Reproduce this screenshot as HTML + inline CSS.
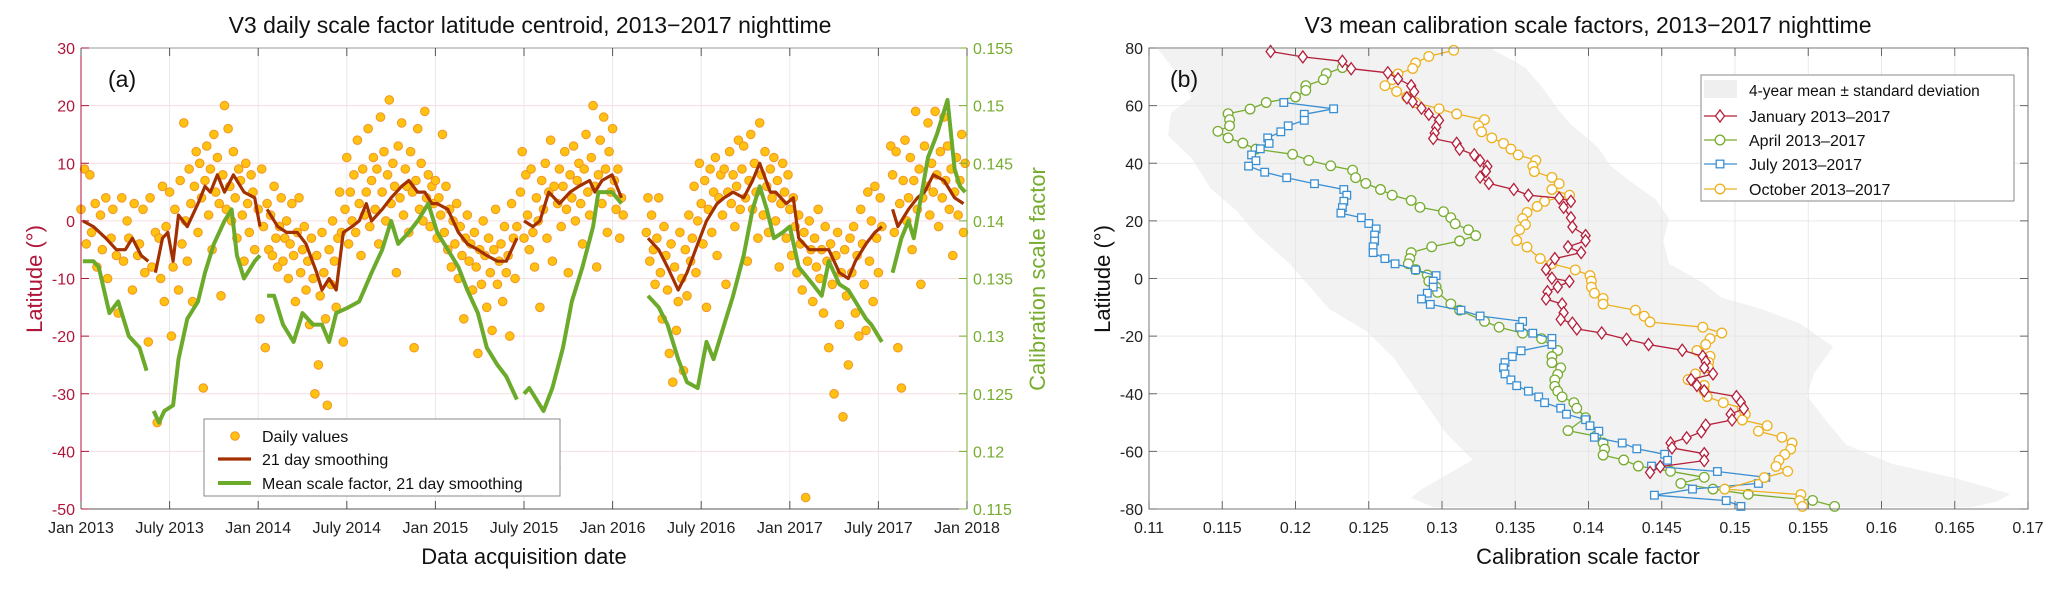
<!DOCTYPE html>
<html><head><meta charset="utf-8">
<style>
html,body{margin:0;padding:0;background:#fff;}
svg{display:block;font-family:"Liberation Sans",Arial,sans-serif;}
</style></head>
<body>
<svg id="fig" width="2067" height="592" viewBox="0 0 2067 592" xmlns="http://www.w3.org/2000/svg">
<rect x="0" y="0" width="2067" height="592" fill="#fff"/>
<g id="pa"></g>
<g id="pb"></g>
</svg>
<script>
// ===== Panel (a) data =====
const aXTickLabels = ["Jan 2013","July 2013","Jan 2014","July 2014","Jan 2015","July 2015","Jan 2016","July 2016","Jan 2017","July 2017","Jan 2018"];
const aXTickYears = [2013,2013.5,2014,2014.5,2015,2015.5,2016,2016.5,2017,2017.5,2018];
const aLatTicks = [30,20,10,0,-10,-20,-30,-40,-50];
const aScaleTicks = [0.155,0.15,0.145,0.14,0.135,0.13,0.125,0.12,0.115];
const dailyValues = [[2013.00,2],[2013.02,9],[2013.03,-4],[2013.05,8],[2013.06,-2],[2013.08,3],[2013.09,-8],[2013.11,1],[2013.12,-5],[2013.14,4],[2013.15,-10],[2013.17,-3],[2013.18,2],[2013.20,-6],[2013.21,-16],[2013.23,4],[2013.24,-7],[2013.26,0],[2013.27,-3],[2013.29,-12],[2013.30,3],[2013.32,-6],[2013.33,-4],[2013.35,2],[2013.36,-9],[2013.38,-21],[2013.39,4],[2013.40,-8],[2013.42,-2],[2013.43,-35],[2013.44,-3],[2013.45,-10],[2013.46,6],[2013.47,-14],[2013.48,-1],[2013.50,5],[2013.51,-20],[2013.52,-8],[2013.53,2],[2013.55,-12],[2013.56,7],[2013.57,-4],[2013.58,17],[2013.59,0],[2013.60,-7],[2013.61,9],[2013.62,3],[2013.63,-14],[2013.64,6],[2013.65,12],[2013.66,-2],[2013.67,10],[2013.68,4],[2013.69,-29],[2013.70,7],[2013.71,13],[2013.72,1],[2013.73,9],[2013.74,-5],[2013.75,15],[2013.76,5],[2013.77,11],[2013.78,3],[2013.79,-13],[2013.80,8],[2013.81,20],[2013.82,2],[2013.83,16],[2013.84,6],[2013.85,0],[2013.86,12],[2013.87,4],[2013.88,-3],[2013.89,9],[2013.90,7],[2013.91,1],[2013.92,-7],[2013.93,10],[2013.94,3],[2013.95,-2],[2013.96,8],[2013.97,5],[2013.98,-5],
[2014.00,2],[2014.01,-17],[2014.02,9],[2014.03,-1],[2014.04,-22],[2014.05,3],[2014.06,-5],[2014.07,1],[2014.08,-6],[2014.09,6],[2014.10,-3],[2014.11,-8],[2014.12,-1],[2014.13,4],[2014.14,-7],[2014.15,-3],[2014.16,0],[2014.17,-10],[2014.18,-4],[2014.19,3],[2014.20,-6],[2014.21,-14],[2014.22,-2],[2014.23,4],[2014.24,-9],[2014.25,-5],[2014.26,-1],[2014.27,-12],[2014.28,-7],[2014.29,-18],[2014.30,-3],[2014.31,-10],[2014.32,-30],[2014.33,-6],[2014.34,-25],[2014.35,-13],[2014.36,-2],[2014.37,-9],[2014.38,-17],[2014.39,-32],[2014.40,-5],[2014.41,-11],[2014.42,0],[2014.43,-7],[2014.44,-15],[2014.45,-3],[2014.46,5],[2014.47,-2],[2014.48,-21],[2014.49,2],[2014.50,11],[2014.51,-4],[2014.52,5],[2014.53,0],[2014.54,8],[2014.55,-2],[2014.56,14],[2014.57,3],[2014.58,-6],[2014.59,9],[2014.60,1],[2014.61,5],[2014.62,16],[2014.63,-1],[2014.64,7],[2014.65,11],[2014.66,2],[2014.67,9],[2014.68,-4],[2014.69,18],[2014.70,5],[2014.71,12],[2014.72,0],[2014.73,8],[2014.74,21],[2014.75,3],[2014.76,10],[2014.77,6],[2014.78,-9],[2014.79,13],[2014.80,4],[2014.81,17],[2014.82,1],[2014.83,9],[2014.84,6],[2014.85,-2],[2014.86,12],[2014.87,5],[2014.88,-22],[2014.89,7],[2014.90,16],[2014.91,2],[2014.92,10],[2014.93,0],[2014.94,19],[2014.95,4],[2014.96,8],[2014.97,-1],[2014.98,6],[2014.99,3],
[2015.00,7],[2015.01,-3],[2015.02,4],[2015.03,1],[2015.04,15],[2015.05,-2],[2015.06,6],[2015.07,-5],[2015.08,2],[2015.09,-8],[2015.10,0],[2015.11,-4],[2015.12,3],[2015.13,-10],[2015.14,-1],[2015.15,-6],[2015.16,-17],[2015.17,-3],[2015.18,1],[2015.19,-7],[2015.20,-4],[2015.21,-12],[2015.22,-2],[2015.23,-8],[2015.24,-23],[2015.25,-5],[2015.26,-11],[2015.27,0],[2015.28,-6],[2015.29,-15],[2015.30,-3],[2015.31,-9],[2015.32,-19],[2015.33,-5],[2015.34,2],[2015.35,-11],[2015.36,-7],[2015.37,-4],[2015.38,-14],[2015.39,-1],[2015.40,-9],[2015.41,-6],[2015.42,-20],[2015.43,3],[2015.44,-3],[2015.45,-10],[2015.46,-1],[2015.48,5],[2015.49,12],[2015.50,-3],[2015.51,8],[2015.52,1],[2015.53,-5],[2015.54,9],[2015.55,-2],[2015.56,-8],[2015.57,4],[2015.58,0],[2015.59,-15],[2015.60,7],[2015.61,2],[2015.62,10],[2015.63,-3],[2015.64,5],[2015.65,14],[2015.66,-7],[2015.67,6],[2015.68,-43],[2015.69,3],[2015.70,9],[2015.71,-1],[2015.72,6],[2015.73,12],[2015.74,2],[2015.75,-9],[2015.76,8],[2015.77,4],[2015.78,13],[2015.79,0],[2015.80,7],[2015.81,10],[2015.82,3],[2015.83,-4],[2015.84,9],[2015.85,15],[2015.86,5],[2015.87,1],[2015.88,11],[2015.89,20],[2015.90,6],[2015.91,-8],[2015.92,8],[2015.93,14],[2015.94,3],[2015.95,18],[2015.96,9],[2015.97,-2],[2015.98,12],[2015.99,5],
[2016.00,16],[2016.01,7],[2016.02,2],[2016.03,9],[2016.04,-3],[2016.05,4],[2016.06,1],
[2016.19,-2],[2016.20,4],[2016.21,-7],[2016.22,1],[2016.23,-5],[2016.24,-11],[2016.25,-3],[2016.26,4],[2016.27,-9],[2016.28,-17],[2016.29,-1],[2016.30,-6],[2016.31,-12],[2016.32,-23],[2016.33,-4],[2016.34,-28],[2016.35,-8],[2016.36,-19],[2016.37,-14],[2016.38,-2],[2016.39,-10],[2016.40,-26],[2016.41,-5],[2016.42,-13],[2016.43,1],[2016.44,-7],[2016.45,-3],[2016.46,6],[2016.47,-9],[2016.48,0],[2016.49,10],[2016.50,3],[2016.51,-4],[2016.52,7],[2016.53,-15],[2016.54,2],[2016.55,9],[2016.56,-2],[2016.57,5],[2016.58,11],[2016.59,-6],[2016.60,4],[2016.61,8],[2016.62,1],[2016.63,9],[2016.64,-11],[2016.65,5],[2016.66,12],[2016.67,3],[2016.68,8],[2016.69,-1],[2016.70,6],[2016.71,14],[2016.72,2],[2016.73,9],[2016.74,13],[2016.75,4],[2016.76,-7],[2016.77,7],[2016.78,15],[2016.79,2],[2016.80,10],[2016.81,5],[2016.82,-3],[2016.83,17],[2016.84,8],[2016.85,1],[2016.86,12],[2016.87,6],[2016.88,-2],[2016.89,9],[2016.90,4],[2016.91,11],[2016.92,0],[2016.93,7],[2016.94,-8],[2016.95,3],[2016.96,10],[2016.97,5],[2016.98,-3],[2016.99,8],
[2017.00,2],[2017.01,-6],[2017.02,4],[2017.03,-1],[2017.04,-9],[2017.05,1],[2017.06,-4],[2017.07,-12],[2017.08,-2],[2017.09,-48],[2017.10,-7],[2017.11,0],[2017.12,-5],[2017.13,-14],[2017.14,-3],[2017.15,-8],[2017.16,2],[2017.17,-10],[2017.18,-5],[2017.19,-16],[2017.20,-1],[2017.21,-7],[2017.22,-22],[2017.23,-4],[2017.24,-11],[2017.25,-30],[2017.26,-6],[2017.27,-2],[2017.28,-18],[2017.29,-9],[2017.30,-34],[2017.31,-5],[2017.32,-13],[2017.33,-25],[2017.34,-3],[2017.35,-9],[2017.36,-1],[2017.37,-16],[2017.38,-6],[2017.39,-20],[2017.40,2],[2017.41,-4],[2017.42,-11],[2017.43,-19],[2017.44,5],[2017.45,-7],[2017.46,0],[2017.47,-14],[2017.48,6],[2017.49,-3],[2017.50,-9],[2017.51,4],[2017.52,-1],
[2017.57,13],[2017.58,8],[2017.59,-2],[2017.60,12],[2017.61,-22],[2017.62,3],[2017.63,-29],[2017.64,7],[2017.65,14],[2017.66,0],[2017.67,4],[2017.68,11],[2017.69,-5],[2017.70,7],[2017.71,19],[2017.72,2],[2017.73,9],[2017.74,-11],[2017.75,4],[2017.76,13],[2017.77,6],[2017.78,17],[2017.79,1],[2017.80,10],[2017.81,5],[2017.82,19],[2017.83,8],[2017.84,-1],[2017.85,12],[2017.86,4],[2017.87,18],[2017.88,7],[2017.89,13],[2017.90,2],[2017.91,9],[2017.92,-6],[2017.93,5],[2017.94,11],[2017.95,1],[2017.96,7],[2017.97,15],[2017.98,-2],[2017.99,10]];
const smoothLat = [
[[2013.01,0],[2013.07,-1],[2013.14,-3],[2013.20,-5],[2013.25,-5],[2013.29,-3],[2013.34,-6],[2013.38,-7]],
[[2013.42,-9],[2013.46,-3],[2013.49,-2],[2013.52,-7],[2013.55,1],[2013.60,-1],[2013.66,3],[2013.70,6],[2013.73,5],[2013.77,8],[2013.81,5],[2013.86,8],[2013.92,5],[2013.98,4],[2014.01,-1]],
[[2014.05,2],[2014.11,-1],[2014.16,-2],[2014.22,-2],[2014.27,-4],[2014.33,-9],[2014.36,-12],[2014.40,-10],[2014.44,-12],[2014.48,-2],[2014.53,-1],[2014.57,0],[2014.61,3],[2014.64,0],[2014.70,2],[2014.75,4],[2014.81,6],[2014.85,7],[2014.90,5],[2014.94,5],[2014.98,3],[2015.01,3],[2015.07,2],[2015.13,-2],[2015.18,-4],[2015.24,-5],[2015.29,-6],[2015.35,-7],[2015.40,-7],[2015.46,-3]],
[[2015.50,0],[2015.55,-1],[2015.59,0],[2015.64,5],[2015.70,3],[2015.76,5],[2015.81,6],[2015.87,7],[2015.90,5],[2015.94,7],[2015.997,8],[2016.05,4]],
[[2016.20,-3],[2016.26,-5],[2016.31,-8],[2016.37,-12],[2016.42,-9],[2016.48,-4],[2016.53,0],[2016.59,3],[2016.63,4],[2016.68,5],[2016.74,4],[2016.79,7],[2016.83,10],[2016.89,5],[2016.92,5],[2016.98,3],[2017.02,4],[2017.05,-3],[2017.11,-5],[2017.17,-5],[2017.22,-5],[2017.28,-9],[2017.33,-10],[2017.37,-7],[2017.43,-4],[2017.48,-2],[2017.52,-1]],
[[2017.58,2],[2017.61,-1],[2017.67,2],[2017.72,4],[2017.76,5],[2017.81,8],[2017.87,7],[2017.93,4],[2017.98,3]]];
const smoothScale = [
[[2013.01,0.1365],[2013.07,0.1365],[2013.10,0.136],[2013.16,0.132],[2013.21,0.133],[2013.27,0.130],[2013.33,0.129],[2013.37,0.127]],
[[2013.41,0.1235],[2013.44,0.1225],[2013.47,0.1235],[2013.52,0.124],[2013.55,0.128],[2013.60,0.1315],[2013.66,0.133],[2013.70,0.1355],[2013.75,0.138],[2013.81,0.140],[2013.85,0.141],[2013.88,0.137],[2013.92,0.135],[2013.98,0.1365],[2014.01,0.137]],
[[2014.05,0.1335],[2014.09,0.1335],[2014.14,0.131],[2014.20,0.1295],[2014.25,0.132],[2014.31,0.131],[2014.36,0.131],[2014.40,0.1295],[2014.44,0.132],[2014.51,0.1325],[2014.57,0.133],[2014.64,0.1355],[2014.70,0.1375],[2014.75,0.140],[2014.79,0.138],[2014.85,0.139],[2014.90,0.140],[2014.96,0.1415],[2015.01,0.139],[2015.07,0.1375],[2015.13,0.136],[2015.18,0.134],[2015.24,0.132],[2015.29,0.129],[2015.35,0.1275],[2015.40,0.1265],[2015.46,0.1245]],
[[2015.50,0.125],[2015.53,0.1255],[2015.57,0.1245],[2015.61,0.1235],[2015.66,0.1255],[2015.72,0.129],[2015.77,0.133],[2015.83,0.136],[2015.89,0.1395],[2015.92,0.1425],[2015.997,0.1425],[2016.05,0.1415]],
[[2016.20,0.1335],[2016.26,0.1325],[2016.31,0.131],[2016.37,0.128],[2016.42,0.126],[2016.48,0.1255],[2016.53,0.1295],[2016.57,0.128],[2016.63,0.131],[2016.68,0.1335],[2016.74,0.137],[2016.79,0.141],[2016.83,0.143],[2016.87,0.141],[2016.91,0.1385],[2016.96,0.139],[2017.00,0.1395],[2017.05,0.136],[2017.13,0.1345],[2017.18,0.1335],[2017.22,0.1365],[2017.28,0.1345],[2017.33,0.134],[2017.37,0.133],[2017.43,0.1315],[2017.46,0.131],[2017.52,0.1295]],
[[2017.58,0.1355],[2017.63,0.1385],[2017.67,0.140],[2017.70,0.1385],[2017.74,0.142],[2017.78,0.1455],[2017.83,0.1475],[2017.89,0.1505],[2017.93,0.1445],[2017.96,0.143],[2017.99,0.1425]]];

// ===== Panel (b) data =====
const bXTicks = [0.11,0.115,0.12,0.125,0.13,0.135,0.14,0.145,0.15,0.155,0.16,0.165,0.17];
const bXTickLabels = ["0.11","0.115","0.12","0.125","0.13","0.135","0.14","0.145","0.15","0.155","0.16","0.165","0.17"];
const bYTicks = [80,60,40,20,0,-20,-40,-60,-80];
const janScale = [0.1183,0.1205,0.1232,0.1238,0.1263,0.1270,0.1279,0.1281,0.1276,0.1280,0.1286,0.1291,0.1298,0.1296,0.1295,0.1294,0.1310,0.1312,0.1322,0.1326,0.1331,0.1330,0.1326,0.1332,0.1349,0.1359,0.1380,0.1388,0.1383,0.1388,0.1389,0.1398,0.1398,0.1386,0.1395,0.1377,0.1371,0.1375,0.1387,0.1379,0.1372,0.1371,0.1382,0.1383,0.1381,0.1389,0.1392,0.1409,0.1426,0.1441,0.1464,0.1478,0.1480,0.1479,0.1485,0.1470,0.1474,0.1479,0.1501,0.1504,0.1506,0.1497,0.1498,0.1480,0.1477,0.1467,0.1456,0.1457,0.1479,0.1479,0.1449,0.1442];
const janLat = [78.8,76.9,75.4,72.8,71.4,69.3,66.9,64.8,62.7,61.4,59.1,57.0,54.9,52.5,50.5,48.6,46.9,44.9,42.9,40.9,38.9,37.2,35.2,33.0,30.9,28.9,27.9,26.8,24.7,21.1,17.9,14.9,13.1,11.0,9.0,6.9,3.1,0.1,-1.0,-2.9,-4.6,-7.1,-8.9,-11.9,-14.2,-15.5,-17.5,-18.9,-21.1,-22.9,-24.9,-27.0,-28.9,-31.0,-33.1,-35.1,-37.1,-39.0,-41.0,-42.9,-45.2,-47.1,-49.1,-50.9,-53.2,-55.3,-57.1,-58.8,-60.8,-63.2,-65.3,-67.3];
const aprScale = [0.1232,0.1221,0.1219,0.1207,0.1207,0.1200,0.1180,0.1169,0.1154,0.1155,0.1155,0.1147,0.1154,0.1164,0.1173,0.1198,0.1209,0.1224,0.1239,0.1241,0.1248,0.1258,0.1266,0.1279,0.1285,0.1301,0.1306,0.1309,0.1318,0.1323,0.1312,0.1293,0.1279,0.1278,0.1277,0.1282,0.1290,0.1291,0.1296,0.1297,0.1306,0.1312,0.1329,0.1339,0.1355,0.1368,0.1379,0.1375,0.1375,0.1381,0.1379,0.1377,0.1377,0.1379,0.1382,0.1390,0.1392,0.1398,0.1386,0.1405,0.1410,0.1411,0.1410,0.1424,0.1434,0.1456,0.1479,0.1463,0.1485,0.1509,0.1553,0.1568];
const aprLat = [73.2,71.1,69.0,66.9,65.3,63.0,61.1,58.8,57.2,55.1,53.0,51.1,48.8,47.0,44.9,43.1,41.0,39.1,37.6,35.0,33.0,30.9,28.9,27.1,24.7,23.2,21.1,19.0,16.9,14.9,13.0,11.0,9.0,6.9,5.1,3.1,1.2,-0.9,-2.9,-4.8,-8.8,-11.0,-14.9,-16.9,-19.0,-20.9,-25.0,-27.1,-29.2,-31.0,-33.3,-35.2,-37.4,-39.1,-41.1,-43.1,-45.0,-48.3,-52.8,-54.7,-57.1,-59.2,-61.3,-63.0,-65.1,-66.9,-69.0,-71.1,-73.1,-74.9,-77.0,-79.1];
const julScale = [0.1192,0.1226,0.1206,0.1206,0.1195,0.1190,0.1181,0.1182,0.1176,0.1170,0.1173,0.1168,0.1179,0.1194,0.1213,0.1233,0.1235,0.1233,0.1232,0.1231,0.1245,0.1250,0.1255,0.1254,0.1254,0.1253,0.1253,0.1261,0.1268,0.1282,0.1296,0.1294,0.1294,0.1290,0.1286,0.1292,0.1313,0.1326,0.1355,0.1353,0.1362,0.1375,0.1375,0.1354,0.1348,0.1343,0.1342,0.1343,0.1347,0.1351,0.1359,0.1366,0.1370,0.1381,0.1385,0.1398,0.1401,0.1407,0.1404,0.1423,0.1433,0.1452,0.1454,0.1443,0.1488,0.1521,0.1516,0.1471,0.1445,0.1494,0.1504];
const julLat = [61.1,58.9,57.0,54.9,53.0,50.9,48.8,46.9,45.0,42.9,40.9,39.0,36.9,35.0,32.9,30.9,28.9,26.8,24.6,22.7,21.1,19.1,17.2,15.1,13.0,11.0,9.0,6.9,5.1,3.0,1.0,-0.9,-3.0,-5.1,-7.1,-9.0,-11.0,-13.0,-14.9,-16.9,-19.0,-20.8,-22.9,-25.1,-27.1,-29.2,-31.0,-33.1,-35.2,-37.2,-39.1,-41.1,-43.1,-45.0,-47.1,-49.0,-51.1,-53.0,-55.1,-57.1,-59.1,-61.0,-63.1,-65.1,-67.0,-69.0,-71.1,-73.1,-75.2,-77.1,-79.1];
const octScale = [0.1308,0.1291,0.1282,0.1280,0.1270,0.1266,0.1261,0.1269,0.1276,0.1282,0.1298,0.1310,0.1329,0.1325,0.1327,0.1334,0.1342,0.1347,0.1352,0.1364,0.1362,0.1363,0.1375,0.1380,0.1375,0.1387,0.1370,0.1365,0.1358,0.1355,0.1357,0.1353,0.1351,0.1358,0.1367,0.1375,0.1391,0.1401,0.1402,0.1402,0.1404,0.1410,0.1410,0.1432,0.1438,0.1442,0.1478,0.1491,0.1483,0.1480,0.1474,0.1483,0.1482,0.1482,0.1473,0.1468,0.1479,0.1479,0.1481,0.1492,0.1505,0.1507,0.1505,0.1522,0.1516,0.1532,0.1539,0.1538,0.1534,0.1530,0.1528,0.1536,0.1520,0.1493,0.1545,0.1544,0.1546];
const octLat = [79.2,77.1,74.8,72.9,71.0,69.0,66.9,64.9,63.0,61.0,58.9,57.1,55.1,53.0,50.9,48.8,46.9,44.9,42.9,41.0,39.0,37.1,35.1,32.9,30.9,28.9,26.8,25.0,22.9,20.8,18.7,16.9,13.2,10.9,6.9,5.1,3.0,1.0,-0.9,-3.0,-5.1,-6.9,-8.9,-11.0,-13.1,-15.1,-16.9,-18.9,-20.9,-22.9,-25.0,-27.0,-29.1,-31.0,-33.1,-35.1,-37.1,-39.0,-41.0,-43.1,-45.0,-47.1,-49.1,-51.1,-53.0,-55.1,-57.1,-59.2,-61.1,-63.1,-65.2,-66.9,-69.1,-73.1,-75.0,-77.1,-79.1];
const bandLeftScale = [0.1106,0.1120,0.1129,0.1115,0.1113,0.1129,0.1142,0.1160,0.1173,0.1196,0.1223,0.1249,0.1267,0.1285,0.1303,0.1321,0.1303,0.1285,0.1279,0.1294];
const bandLeftLat = [79.7,70.6,62.7,57.5,49.6,41.8,31.3,23.4,15.6,5.1,-10.6,-18.5,-27.6,-40.7,-53.8,-63.0,-68.2,-73.5,-76.1,-79.4];
const bandRightScale = [0.1334,0.1357,0.1370,0.1379,0.1388,0.1406,0.1415,0.1428,0.1446,0.1455,0.1451,0.1455,0.1478,0.1491,0.1518,0.1545,0.1567,0.1554,0.1549,0.1563,0.1576,0.1607,0.1652,0.1688,0.1679,0.1661];
const bandRightLat = [79.7,73.2,65.3,58.8,53.5,45.7,39.1,33.9,27.4,20.8,13.0,5.1,-1.5,-6.7,-10.6,-15.8,-23.7,-32.9,-40.7,-49.9,-57.7,-64.3,-69.5,-74.8,-77.4,-79.4];

const NS = "http://www.w3.org/2000/svg";
function mk(parent, tag, attrs, text){
  const e = document.createElementNS(NS, tag);
  for (const k in attrs) e.setAttribute(k, attrs[k]);
  if (text !== undefined) e.textContent = text;
  parent.appendChild(e);
  return e;
}

// ===== Panel (a) =====
const pa = document.getElementById('pa');
const AL=81, AR=967, AT=48, AB=509;
const ax = y => AL + (y-2013)/5*(AR-AL);
const ayL = v => AT + (30-v)/80*(AB-AT);
const ayR = v => AT + (0.155-v)/0.04*(AB-AT);
const RED="#B0163A", GRN="#77AC30";

// grid
aXTickYears.forEach(function(t){
  const g = mk(pa,'line',{x1:ax(t),x2:ax(t),y1:AT,y2:AB,stroke:'#e8e8e8','stroke-width':1});
  
  
});
aLatTicks.forEach(function(t){
  const g = mk(pa,'line',{x1:AL,x2:AR,y1:ayL(t),y2:ayL(t),stroke:'#f6dde2','stroke-width':1});
  
  
});
// scatter
const sg = mk(pa,'g',{});


dailyValues.forEach(function(p){
  const c = mk(sg,'circle',{cx:ax(p[0]).toFixed(1),cy:ayL(p[1]).toFixed(1),r:4.3,fill:'#FFC20E',stroke:'#F0962A','stroke-width':1});
  
  
});
// brown smoothing
smoothLat.forEach(function(seg){
  const d = seg.map((p,i)=>(i?'L':'M')+ax(p[0]).toFixed(1)+','+ayL(p[1]).toFixed(1)).join(' ');
  const l = mk(pa,'path',{d:d,fill:'none',stroke:'#A33000','stroke-width':3.2,'stroke-linejoin':'round'});
  
  
});
// green scale line
smoothScale.forEach(function(seg){
  const d = seg.map((p,i)=>(i?'L':'M')+ax(p[0]).toFixed(1)+','+ayR(p[1]).toFixed(1)).join(' ');
  const l = mk(pa,'path',{d:d,fill:'none',stroke:'#6CAA2C','stroke-width':4,'stroke-linejoin':'round'});
  
  
});
// axes box
mk(pa,'line',{x1:AL,x2:AR,y1:AT,y2:AT,stroke:'#999','stroke-width':1});
mk(pa,'line',{x1:AL,x2:AR,y1:AB,y2:AB,stroke:'#555','stroke-width':1});
mk(pa,'line',{x1:AL,x2:AL,y1:AT,y2:AB,stroke:RED,'stroke-width':1,});
mk(pa,'line',{x1:AR,x2:AR,y1:AT,y2:AB,stroke:GRN,'stroke-width':1,});
aXTickYears.forEach(function(t,i){
  mk(pa,'line',{x1:ax(t),x2:ax(t),y1:AB,y2:AB-8,stroke:'#555'});
  mk(pa,'line',{x1:ax(t),x2:ax(t),y1:AT,y2:AT+8,stroke:'#555'});
  const tx = mk(pa,'text',{x:ax(t),y:AB+24,'text-anchor':'middle','font-size':16,fill:'#222'},aXTickLabels[i]);
  
  
});
aLatTicks.forEach(function(t){
  mk(pa,'line',{x1:AL,x2:AL+8,y1:ayL(t),y2:ayL(t),stroke:RED});
  const tx = mk(pa,'text',{x:AL-6,y:ayL(t)+6,'text-anchor':'end','font-size':16,fill:RED},String(t));
  
  
});
aScaleTicks.forEach(function(t){
  mk(pa,'line',{x1:AR-8,x2:AR,y1:ayR(t),y2:ayR(t),stroke:GRN});
  const tx = mk(pa,'text',{x:AR+6,y:ayR(t)+6,'text-anchor':'start','font-size':16,fill:GRN},String(t));
  
  
});
mk(pa,'text',{x:530,y:33,'text-anchor':'middle','font-size':23,fill:'#111',},'V3 daily scale factor latitude centroid, 2013\u22122017 nighttime');
mk(pa,'text',{x:108,y:87,'font-size':23,fill:'#111',},'(a)');
mk(pa,'text',{x:524,y:564,'text-anchor':'middle','font-size':22,fill:'#111',},'Data acquisition date');
mk(pa,'text',{x:0,y:0,transform:'translate(42,279) rotate(-90)','text-anchor':'middle','font-size':22,fill:RED,},'Latitude (\u00B0)');
mk(pa,'text',{x:0,y:0,transform:'translate(1045,279) rotate(-90)','text-anchor':'middle','font-size':22,fill:GRN,},'Calibration scale factor');
// legend a
const lga = mk(pa,'g',{});


mk(lga,'rect',{x:204,y:419,width:356,height:77,fill:'#fff',stroke:'#888','stroke-width':1});
mk(lga,'circle',{cx:235,cy:436,r:4.3,fill:'#FFC20E',stroke:'#F0962A'});
mk(lga,'text',{x:262,y:442,'font-size':16,fill:'#111',},'Daily values');
mk(lga,'line',{x1:218,x2:251,y1:459,y2:459,stroke:'#A33000','stroke-width':3.2});
mk(lga,'text',{x:262,y:465,'font-size':16,fill:'#111',},'21 day smoothing');
mk(lga,'line',{x1:218,x2:251,y1:483,y2:483,stroke:'#6CAA2C','stroke-width':4});
mk(lga,'text',{x:262,y:489,'font-size':16,fill:'#111',},'Mean scale factor, 21 day smoothing');

// ===== Panel (b) =====
const pb = document.getElementById('pb');
const BL=1149, BR=2028, BT=48, BB=509;
const bx = v => BL + (v-0.11)/0.06*(BR-BL);
const by = v => BT + (80-v)/160*(BB-BT);
// band
(function(){
  let pts = [];
  for (let i=0;i<bandLeftScale.length;i++) pts.push(bx(bandLeftScale[i]).toFixed(1)+','+by(bandLeftLat[i]).toFixed(1));
  for (let i=bandRightScale.length-1;i>=0;i--) pts.push(bx(bandRightScale[i]).toFixed(1)+','+by(bandRightLat[i]).toFixed(1));
  const b = mk(pb,'polygon',{points:pts.join(' '),fill:'#f2f2f2',stroke:'none'});
  
  
})();
bXTicks.forEach(function(t){
  const g = mk(pb,'line',{x1:bx(t),x2:bx(t),y1:BT,y2:BB,stroke:'#e4e4e4','stroke-width':1,'stroke-opacity':0.8});
  
  
});
bYTicks.forEach(function(t){
  const g = mk(pb,'line',{x1:BL,x2:BR,y1:by(t),y2:by(t),stroke:'#e4e4e4','stroke-width':1,'stroke-opacity':0.8});
  
  
});
function series(xs, ys, color, marker, name){
  const g = mk(pb,'g',{});
  
  
  const d = xs.map((v,i)=>(i?'L':'M')+bx(v).toFixed(1)+','+by(ys[i]).toFixed(1)).join(' ');
  mk(g,'path',{d:d,fill:'none',stroke:color,'stroke-width':1.3});
  xs.forEach(function(v,i){
    const cx=bx(v), cy=by(ys[i]);
    let m;
    if (marker==='o') m = mk(g,'circle',{cx:cx.toFixed(1),cy:cy.toFixed(1),r:4.8,fill:'#fff',stroke:color,'stroke-width':1.3});
    else if (marker==='s') m = mk(g,'rect',{x:(cx-3.8).toFixed(1),y:(cy-3.8).toFixed(1),width:7.6,height:7.6,fill:'#fff',stroke:color,'stroke-width':1.3});
    else m = mk(g,'polygon',{points:`${cx},${cy-6} ${cx+4.5},${cy} ${cx},${cy+6} ${cx-4.5},${cy}`,fill:'#fff',stroke:color,'stroke-width':1.3});
    
    
  });
}
series(aprScale, aprLat, '#77AC30', 'o', 'april-series');
series(julScale, julLat, '#3A8FD3', 's', 'july-series');
series(octScale, octLat, '#EDB120', 'o', 'october-series');
series(janScale, janLat, '#B51F3A', 'd', 'january-series');
// box
mk(pb,'rect',{x:BL,y:BT,width:BR-BL,height:BB-BT,fill:'none',stroke:'#777','stroke-width':1});
bXTicks.forEach(function(t,i){
  mk(pb,'line',{x1:bx(t),x2:bx(t),y1:BB,y2:BB-8,stroke:'#666'});
  mk(pb,'line',{x1:bx(t),x2:bx(t),y1:BT,y2:BT+8,stroke:'#666'});
  const tx = mk(pb,'text',{x:bx(t),y:BB+24,'text-anchor':'middle','font-size':16,fill:'#222'},bXTickLabels[i]);
  
  
});
bYTicks.forEach(function(t){
  mk(pb,'line',{x1:BL,x2:BL+8,y1:by(t),y2:by(t),stroke:'#666'});
  mk(pb,'line',{x1:BR-8,x2:BR,y1:by(t),y2:by(t),stroke:'#666'});
  const tx = mk(pb,'text',{x:BL-6,y:by(t)+6,'text-anchor':'end','font-size':16,fill:'#222'},String(t));
  
  
});
mk(pb,'text',{x:1588,y:33,'text-anchor':'middle','font-size':23,fill:'#111',},'V3 mean calibration scale factors, 2013\u22122017 nighttime');
mk(pb,'text',{x:1170,y:87,'font-size':23,fill:'#111',},'(b)');
mk(pb,'text',{x:1588,y:564,'text-anchor':'middle','font-size':22,fill:'#111',},'Calibration scale factor');
mk(pb,'text',{x:0,y:0,transform:'translate(1110,279) rotate(-90)','text-anchor':'middle','font-size':22,fill:'#111',},'Latitude (\u00B0)');
// legend b
const lgb = mk(pb,'g',{});


mk(lgb,'rect',{x:1701,y:75,width:313,height:126,fill:'#fff',stroke:'#888','stroke-width':1});
mk(lgb,'rect',{x:1704,y:80,width:33,height:18,fill:'#efefef'});
mk(lgb,'text',{x:1749,y:96,'font-size':15.5,fill:'#111',},'4-year mean \u00B1 standard deviation');
const legItems = [['January 2013\u20132017','#B51F3A','d',116],['April 2013\u20132017','#77AC30','o',140],['July 2013\u20132017','#3A8FD3','s',164],['October 2013\u20132017','#EDB120','o',189]];
legItems.forEach(function(it){
  const y = it[3];
  mk(lgb,'line',{x1:1704,x2:1737,y1:y,y2:y,stroke:it[1],'stroke-width':1.3});
  if (it[2]==='o') mk(lgb,'circle',{cx:1720,cy:y,r:4.8,fill:'#fff',stroke:it[1],'stroke-width':1.3});
  else if (it[2]==='s') mk(lgb,'rect',{x:1716.2,y:y-3.8,width:7.6,height:7.6,fill:'#fff',stroke:it[1],'stroke-width':1.3});
  else mk(lgb,'polygon',{points:`1720,${y-6} 1724.5,${y} 1720,${y+6} 1715.5,${y}`,fill:'#fff',stroke:it[1],'stroke-width':1.3});
  const t = mk(lgb,'text',{x:1749,y:y+6,'font-size':16,fill:'#111'},it[0]);
  
  
});
</script>
</body></html>
